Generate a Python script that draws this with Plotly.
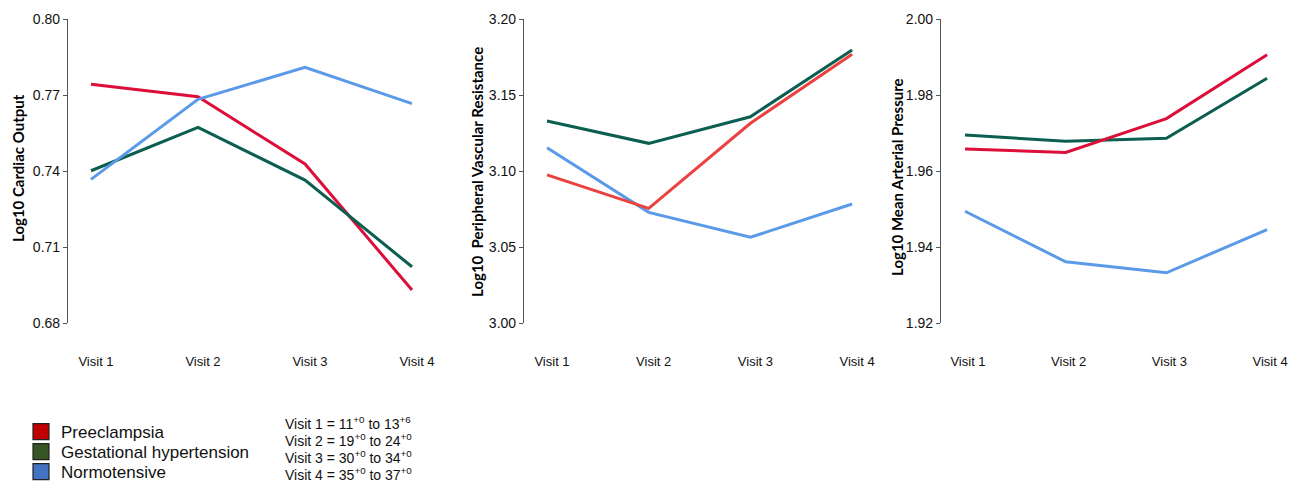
import plotly.graph_objects as go

visits = ["Visit 1", "Visit 2", "Visit 3", "Visit 4"]
xpos = [1, 2, 3, 4]

# Log10 Cardiac Output
co_pre = [0.7742, 0.7693, 0.7428, 0.6930]
co_gh = [0.7401, 0.7572, 0.7364, 0.7022]
co_norm = [0.7367, 0.7683, 0.7809, 0.7666]

# Log10 Peripheral Vascular Resistance
pvr_pre = [3.0974, 3.0754, 3.1314, 3.1768]
pvr_gh = [3.1329, 3.1182, 3.1357, 3.1796]
pvr_norm = [3.1153, 3.0728, 3.0564, 3.0783]

# Log10 Mean Arterial Pressure
map_pre = [1.9658, 1.9649, 1.9738, 1.9906]
map_gh = [1.9695, 1.9678, 1.9686, 1.9844]
map_norm = [1.9494, 1.9361, 1.9332, 1.9446]

titles = ["Log10 Cardiac Output", "Log10  Peripheral Vascular Resistance", "Log10 Mean Arterial Pressure"]
y_ranges = [[0.68, 0.80], [3.00, 3.20], [1.92, 2.00]]
y_dtick = [0.03, 0.05, 0.02]

groups = ["Preeclampsia", "Gestational hypertension", "Normotensive"]
legend_colors = ["#c00000", "#375623", "#4472c4"]
visit_defs = [
    "Visit 1 = 11<sup>+0</sup> to 13<sup>+6</sup>",
    "Visit 2 = 19<sup>+0</sup> to 24<sup>+0</sup>",
    "Visit 3 = 30<sup>+0</sup> to 34<sup>+0</sup>",
    "Visit 4 = 35<sup>+0</sup> to 37<sup>+0</sup>",
]

RED = "#dc0f3a"
RED2 = "#ec4141"
GREEN = "#0b5e50"
BLUE = "#5a9ae8"

W, H = 1290, 482
# pixel geometry of each panel: axis x, visit1 x, visit spacing, label shift
panels = [(68, 91, 107.0, 5), (524, 547, 101.7, 5), (941, 965, 100.7, 3)]
top_px, bot_px = 19, 323

fig = go.Figure()

data = [
    [(co_pre, RED), (co_gh, GREEN), (co_norm, BLUE)],
    [(pvr_gh, GREEN), (pvr_norm, BLUE), (pvr_pre, RED2)],
    [(map_gh, GREEN), (map_pre, RED), (map_norm, BLUE)],
]

layout_axes = {}
for i, (ax_px, v1_px, sp, shift) in enumerate(panels):
    xa = "x" if i == 0 else f"x{i+1}"
    ya = "y" if i == 0 else f"y{i+1}"
    for vals, col in data[i]:
        fig.add_trace(go.Scatter(x=xpos, y=vals, mode="lines",
                                 line=dict(color=col, width=3),
                                 xaxis=xa, yaxis=ya, showlegend=False,
                                 hoverinfo="skip"))
    r0 = 1 - (v1_px - ax_px) / sp
    r1 = 4.2
    right_px = v1_px + (r1 - 1) * sp
    key = "" if i == 0 else str(i + 1)
    layout_axes[f"xaxis{key}"] = dict(
        domain=[ax_px / W, min(right_px / W, 1.0)], range=[r0, r1],
        tickvals=xpos, ticktext=visits, showline=False, showgrid=False,
        zeroline=False, ticks="outside", ticklen=26, tickcolor="rgba(0,0,0,0)",
        ticklabelshift=shift,
        tickfont=dict(family="Liberation Sans, Arial", size=13, color="#111"),
        anchor=ya, fixedrange=True, automargin=False)
    layout_axes[f"yaxis{key}"] = dict(
        domain=[1 - bot_px / H, 1 - top_px / H], range=y_ranges[i],
        dtick=y_dtick[i], tick0=y_ranges[i][0], tickformat=".2f",
        showline=True, linecolor="#555", linewidth=1.2, showgrid=False,
        zeroline=False, ticks="outside", ticklen=4, tickcolor="#555",
        tickfont=dict(family="Liberation Sans, Arial", size=14, color="#111"),
        anchor=xa, fixedrange=True, automargin=False)

fig.update_layout(**layout_axes)

# legend entries (dummy traces), one legend per entry for exact spacing
legend_names = ["legend", "legend2", "legend3"]
legend_y = [432, 452, 472]
legend_layout = {}
for g, c, ln, ly in zip(groups, legend_colors, legend_names, legend_y):
    fig.add_trace(go.Scatter(x=[None], y=[None], mode="markers", name=g,
                             legend=ln,
                             marker=dict(symbol="square", size=18, color=c,
                                         line=dict(color="#222", width=1.2))))
    legend_layout[ln] = dict(x=21 / W, y=1 - ly / H, xanchor="left", yanchor="middle",
                             font=dict(family="Liberation Sans, Arial", size=17, color="#111"),
                             itemsizing="trace", bgcolor="rgba(0,0,0,0)",
                             borderwidth=0)

annotations = []
title_pos = [(18, 168), (477, 172), (897, 177)]
for t, (tx, ty) in zip(titles, title_pos):
    annotations.append(dict(text=f"<b>{t}</b>", x=tx / W, y=1 - ty / H,
                            xref="paper", yref="paper", textangle=-90,
                            showarrow=False, xanchor="center", yanchor="middle",
                            font=dict(family="Lato, Carlito, sans-serif", size=15, color="#000")))
def_y = [423, 440, 457, 474]
for t, yy in zip(visit_defs, def_y):
    annotations.append(dict(text=t, x=283 / W, y=1 - yy / H, xref="paper", yref="paper",
                            showarrow=False, xanchor="left", yanchor="middle",
                            font=dict(family="Liberation Sans, Arial", size=14, color="#111")))

fig.update_layout(
    width=W, height=H,
    margin=dict(l=0, r=0, t=0, b=0, autoexpand=False),
    paper_bgcolor="white", plot_bgcolor="white",
    annotations=annotations,
    **legend_layout,
)

fig.write_html("out.html", config={"displayModeBar": False},
               post_script="document.body.style.margin='0';document.body.style.overflow='hidden';")
